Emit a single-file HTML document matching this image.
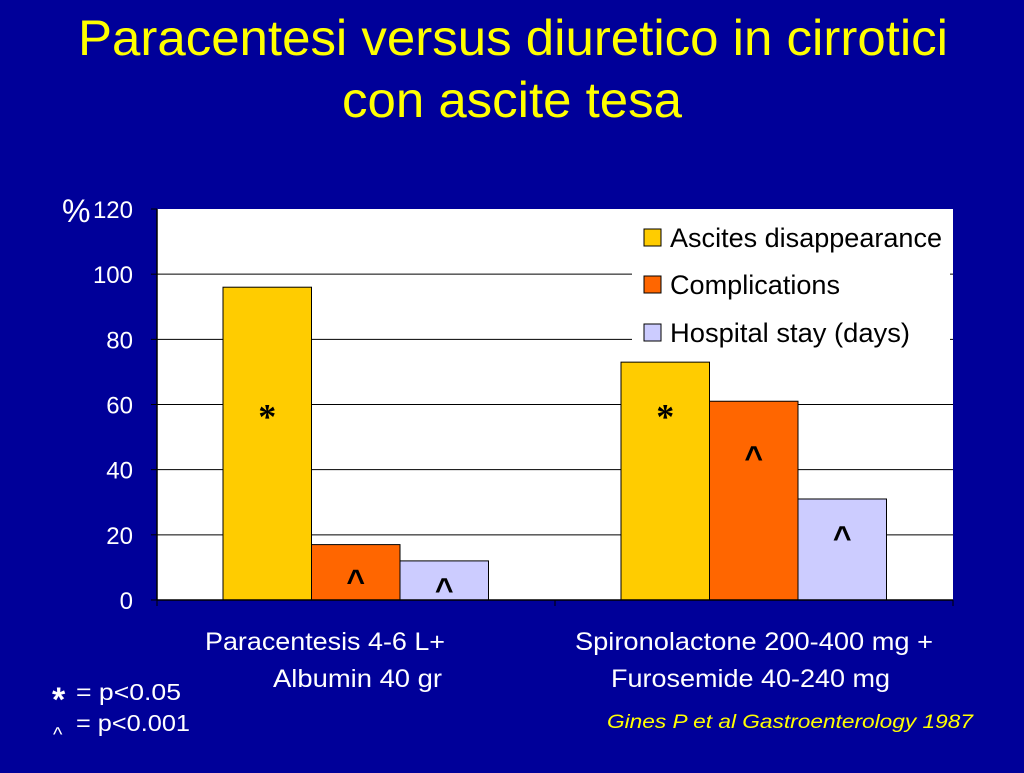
<!DOCTYPE html>
<html><head><meta charset="utf-8"><style>
body{margin:0;width:1024px;height:768px;background:#000099;overflow:hidden;font-family:"Liberation Sans",sans-serif}
</style></head><body>
<svg width="1024" height="768" xmlns="http://www.w3.org/2000/svg">
<rect width="1024" height="768" fill="#000099"/>
<text x="78" y="55" font-size="50" textLength="870" lengthAdjust="spacingAndGlyphs" fill="#ffff00">Paracentesi versus diuretico in cirrotici</text>
<text x="342" y="117" font-size="50" textLength="340" lengthAdjust="spacingAndGlyphs" fill="#ffff00">con ascite tesa</text>
<rect x="157" y="209" width="796" height="391" fill="#fff"/>
<g id="grid"></g><g id="bars"></g>
<rect x="632" y="216" width="318" height="138" fill="#fff"/>
<g font-size="27" fill="#000">
<rect x="644" y="229" width="17" height="17" fill="#ffcc00" stroke="#000"/>
<text x="670" y="247" textLength="272" lengthAdjust="spacingAndGlyphs">Ascites disappearance</text>
<rect x="644" y="276" width="17" height="17" fill="#ff6600" stroke="#000"/>
<text x="670" y="294" textLength="170" lengthAdjust="spacingAndGlyphs">Complications</text>
<rect x="644" y="324" width="17" height="17" fill="#ccccff" stroke="#000"/>
<text x="670" y="342" textLength="240" lengthAdjust="spacingAndGlyphs">Hospital stay (days)</text>
</g>
<g id="axes"></g>
<text x="62" y="222" font-size="32" fill="#fff">%</text>
<g font-size="25" fill="#fff">
<text x="205" y="650" textLength="240" lengthAdjust="spacingAndGlyphs">Paracentesis 4-6 L+</text>
<text x="273" y="687" textLength="169" lengthAdjust="spacingAndGlyphs">Albumin 40 gr</text>
<text x="575" y="650" textLength="358" lengthAdjust="spacingAndGlyphs">Spironolactone 200-400 mg +</text>
<text x="611" y="687" textLength="279" lengthAdjust="spacingAndGlyphs">Furosemide 40-240 mg</text>
</g>
<g font-size="23" fill="#fff">
<text x="52" y="711" font-size="34" font-weight="bold">*</text>
<text x="76" y="700" textLength="105" lengthAdjust="spacingAndGlyphs">= p&lt;0.05</text>
<text x="53" y="741" font-size="20">^</text>
<text x="76" y="731" textLength="114" lengthAdjust="spacingAndGlyphs">= p&lt;0.001</text>
</g>
<text x="607" y="728" font-size="19" textLength="366" lengthAdjust="spacingAndGlyphs" font-style="italic" fill="#ffff00">Gines P et al Gastroenterology 1987</text>
</svg>
<script>
const categories=["Paracentesis","Diuretics"];
const ascites=[96,73];
const complications=[17,61];
const hospital=[12,31];
const marksAscites=["*","*"];
const marksComplications=["^","^"];
const marksHospital=["^","^"];
const markLevelAscites=[57,57];
const markLevelComplications=[8.6,46.5];
const markLevelHospital=[6,22];
const ticks=[0,20,40,60,80,100,120];
const NS="http://www.w3.org/2000/svg";
const X0=157,X1=953,Y0=600,Y1=209,YMAX=120;
const y=v=>Y0-(v/YMAX)*(Y0-Y1);
const catW=(X1-X0)/categories.length;
function mk(t,a,p){const e=document.createElementNS(NS,t);for(const k in a)e.setAttribute(k,a[k]);p.appendChild(e);return e;}
const grid=document.getElementById('grid'),axes=document.getElementById('axes'),bars=document.getElementById('bars');
ticks.forEach(t=>{
  if(t>0&&t<YMAX){const g=mk('line',{x1:X0,x2:X1,y1:y(t),y2:y(t),stroke:'#000','stroke-width':1},grid);
  
  }
  const tk=mk('line',{x1:X0-6,x2:X0,y1:y(t),y2:y(t),stroke:'#000'},axes);
  
  
  const l=mk('text',{x:133,y:y(t)+9,'font-size':24,fill:'#fff','text-anchor':'end'},axes);
  l.textContent=t;
  
  
});
const ax=mk('line',{x1:X0,x2:X0,y1:Y1,y2:Y0,stroke:'#000','stroke-width':1.5},axes);


const xa=mk('line',{x1:X0,x2:X1,y1:Y0,y2:Y0,stroke:'#000','stroke-width':1.5},axes);


for(let i=0;i<=categories.length;i++){const t=mk('line',{x1:X0+i*catW,x2:X0+i*catW,y1:Y0,y2:Y0+6,stroke:'#000'},axes);

}
const series=[[ascites,'#ffcc00','ascites',marksAscites,markLevelAscites,36,'Liberation Serif'],[complications,'#ff6600','complications',marksComplications,markLevelComplications,32,'Liberation Sans'],[hospital,'#ccccff','hospital',marksHospital,markLevelHospital,32,'Liberation Sans']];
const bw=88.5,gap=66;
categories.forEach((c,i)=>{
  series.forEach((s,j)=>{
    const x=X0+i*catW+gap+j*bw,v=s[0][i];
    const r=mk('rect',{x:x,y:y(v),width:bw,height:Y0-y(v),fill:s[1],stroke:'#000','stroke-width':1},bars);
    
    
    const m=mk('text',{x:x+bw/2,y:y(s[4][i])+(j===0?14:20),'font-size':s[5],'font-weight':'bold',fill:'#000','text-anchor':'middle','font-family':s[6]},bars);
    m.textContent=s[3][i];
    
    
  });
});
</script>
</body></html>
